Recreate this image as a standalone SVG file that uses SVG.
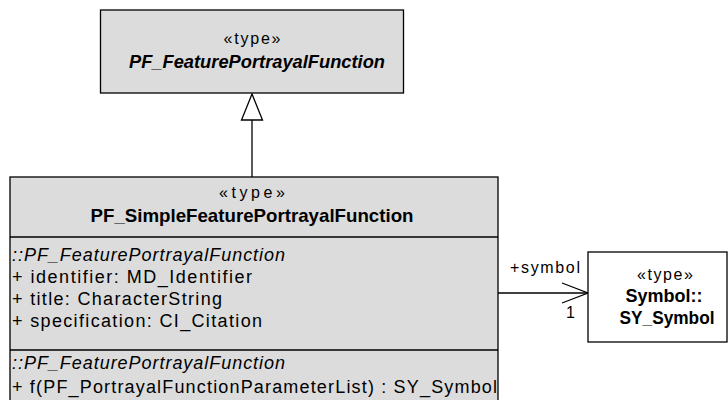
<svg xmlns="http://www.w3.org/2000/svg" width="728" height="400" viewBox="0 0 728 400">
  <style>
    .cls { fill: #dcdcdc; stroke: #000; stroke-width: 1.3; }
    .plain { fill: #fff; stroke: #000; stroke-width: 1.3; }
    .sep { stroke: #000; stroke-width: 1.3; }
    .edge { fill: none; stroke: #000; stroke-width: 1.3; }
    text { font-family: "Liberation Sans", Arial, sans-serif; fill: #000; }
    .st { font-size: 16px; text-anchor: middle; }
    .nm { font-size: 19px; font-weight: bold; text-anchor: middle; }
    .nmi { font-size: 19px; font-weight: bold; font-style: italic; text-anchor: middle; }
    .at { font-size: 18px; }
    .it { font-size: 18px; font-style: italic; }
    .lbl { font-size: 16px; }
  </style>

  <!-- connectors -->
  <g id="connectors">
    <line class="edge" x1="252" y1="120" x2="252" y2="177"/>
    <polygon points="252,94 241.5,120 262.5,120" fill="#fff" stroke="#000" stroke-width="1.3"/>
    <line class="edge" x1="498" y1="293" x2="588" y2="293"/>
    <polyline class="edge" points="562,283 588,293 562,303"/>
    <text class="lbl" x="510" y="273" textLength="70" lengthAdjust="spacing">+symbol</text>
    <text class="lbl" x="566" y="318">1</text>
  </g>

  <!-- abstract supertype -->
  <g id="PF_FeaturePortrayalFunction">
    <rect class="cls" x="100.5" y="10" width="303" height="83"/>
    <text class="st" x="252" y="44" textLength="57" lengthAdjust="spacing">«type»</text>
    <text class="nmi" x="257" y="68" textLength="256" lengthAdjust="spacingAndGlyphs">PF_FeaturePortrayalFunction</text>
  </g>

  <!-- concrete subtype -->
  <g id="PF_SimpleFeaturePortrayalFunction">
    <rect class="cls" x="10" y="177" width="488" height="235"/>
    <line class="sep" x1="10" y1="237" x2="498" y2="237"/>
    <line class="sep" x1="10" y1="350" x2="498" y2="350"/>
    <text class="st" x="252" y="198" textLength="66" lengthAdjust="spacing">«type»</text>
    <text class="nm" x="252" y="222" textLength="323" lengthAdjust="spacingAndGlyphs">PF_SimpleFeaturePortrayalFunction</text>
    <text class="it" x="12" y="261" textLength="273" lengthAdjust="spacing">::PF_FeaturePortrayalFunction</text>
    <text class="at" x="12" y="283" textLength="240" lengthAdjust="spacing">+ identifier: MD_Identifier</text>
    <text class="at" x="12" y="305" textLength="210" lengthAdjust="spacing">+ title: CharacterString</text>
    <text class="at" x="12" y="327" textLength="250" lengthAdjust="spacing">+ specification: CI_Citation</text>
    <text class="it" x="12" y="369" textLength="273" lengthAdjust="spacing">::PF_FeaturePortrayalFunction</text>
    <text class="at" x="12" y="393" textLength="485" lengthAdjust="spacing">+ f(PF_PortrayalFunctionParameterList) : SY_Symbol</text>
  </g>

  <!-- referenced symbol type -->
  <g id="SY_Symbol">
    <rect class="plain" x="588" y="252" width="139" height="90"/>
    <text class="st" x="665" y="280" textLength="56" lengthAdjust="spacing">«type»</text>
    <text class="nm" x="664" y="302" textLength="77" lengthAdjust="spacingAndGlyphs">Symbol::</text>
    <text class="nm" x="667" y="324" textLength="95" lengthAdjust="spacingAndGlyphs">SY_Symbol</text>
  </g>
</svg>
